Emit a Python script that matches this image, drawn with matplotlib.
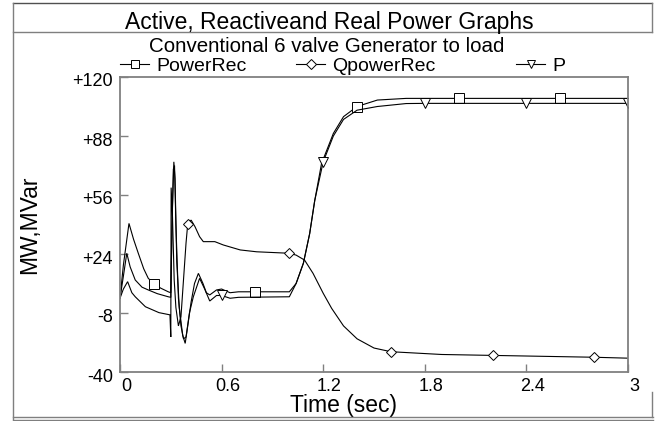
import matplotlib
matplotlib.use("Agg")
import matplotlib.pyplot as plt
from matplotlib.lines import Line2D
import matplotlib.transforms as mtransforms

plt.rcParams['font.family'] = ['Liberation Sans', 'DejaVu Sans']

# ---------------- data ----------------
title = "Active, Reactiveand Real Power Graphs"
subtitle = "Conventional 6 valve Generator to load"
series_names = ["PowerRec", "QpowerRec", "P"]

t_powerrec = [0, 0.02, 0.053, 0.08, 0.108, 0.14, 0.167, 0.2, 0.24, 0.285, 0.30,
              0.31, 0.318, 0.325, 0.335, 0.35, 0.37, 0.385, 0.40, 0.42, 0.44,
              0.463, 0.49, 0.51, 0.53, 0.57, 0.6, 0.65, 0.7, 0.8, 1.0, 1.04,
              1.083, 1.12, 1.15, 1.19, 1.26, 1.32, 1.4, 1.52, 1.69, 2.0, 2.6, 3.0]
v_powerrec = [0, 18, 40.6, 32, 24.4, 16, 10.8, 8, 5.5, 3.5, 3,
              50, 74, 65, 20, -5, -20, -24.5, -15, -2, 8,
              13.5, 8, 3, 1.8, 4.5, 5, 3, 3.5, 3.5, 3.5, 8,
              19, 35, 53, 73, 89.4, 98.5, 104, 107.5, 108.4, 108.4, 108.4, 108.4]

t_q = [0, 0.02, 0.045, 0.07, 0.09, 0.15, 0.23, 0.295, 0.3, 0.302, 0.31, 0.32,
       0.33, 0.345, 0.36, 0.375, 0.39, 0.4, 0.42, 0.443, 0.47, 0.492, 0.56,
       0.61, 0.71, 0.807, 1.0, 1.04, 1.09, 1.14, 1.2, 1.25, 1.32, 1.4, 1.5,
       1.6, 1.9, 2.2, 2.8, 3.0]
v_q = [0, 5, 9, 3, 0.8, -4.6, -7.8, -9, -21, 60, 44, 10,
       -5, -15, -10, 10, 30, 40.3, 42.4, 38.8, 33.4, 30.7, 30.7,
       28.9, 26.2, 25.2, 24.4, 23.4, 20.7, 13.5, 2.7, -5.5, -15, -22, -27,
       -29, -30.5, -31, -32, -32.5]

t_p = [0, 0.02, 0.04, 0.06, 0.09, 0.13, 0.167, 0.22, 0.285, 0.30, 0.305,
       0.315, 0.322, 0.33, 0.345, 0.36, 0.375, 0.39, 0.41, 0.433, 0.47,
       0.5, 0.53, 0.57, 0.6, 0.65, 0.7, 1.0, 1.04, 1.083, 1.12, 1.15, 1.2,
       1.26, 1.32, 1.4, 1.52, 1.69, 1.8, 2.4, 3.0]
v_p = [0, 12, 24.4, 17, 9.9, 6, 4.5, 2.5, 0.8, 0.5, 30,
       70, 72, 40, 0, -15, -22, -21, -8, 0.8, 10.8,
       5, -1.5, 1.5, 1.5, 0, 0.5, 0.8, 8, 19, 35, 53, 74,
       88, 97, 102, 104, 105.6, 105.7, 105.7, 105.7]

marker_t_powerrec = [0.2, 0.8, 1.4, 2.0, 2.6]
marker_t_q = [0.4, 1.0, 1.6, 2.2, 2.8]
marker_t_p = [0.6, 1.2, 1.8, 2.4, 3.0]

x_ticks = [0, 0.6, 1.2, 1.8, 2.4, 3]
x_ticklabels = ["0", "0.6", "1.2", "1.8", "2.4", "3"]
y_ticks = [-40, -8, 24, 56, 88, 120]
y_ticklabels = ["-40", "-8", "+24", "+56", "+88", "+120"]
x_label = "Time (sec)"
y_label = "MW,MVar"

# ---------------- figure ----------------
W, H = 661, 421
fig = plt.figure(figsize=(W / 100, H / 100), dpi=100)

def fx(px):
    return px / W

def fy(py):
    return 1 - py / H

ax = fig.add_axes([fx(120), fy(372), fx(628) - fx(120), fy(77) - fy(372)])

styles = [
    (t_powerrec, v_powerrec, marker_t_powerrec, 's', 7.0),
    (t_q, v_q, marker_t_q, 'D', 5.5),
    (t_p, v_p, marker_t_p, 'v', 7.0),
]
handles = []
for (tt, vv, mt, mk, ms), name in zip(styles, series_names):
    idx = [tt.index(m) for m in mt]
    ln, = ax.plot(tt, vv, color='black', lw=0.8, marker=mk, markevery=idx,
                  markersize=ms, markerfacecolor='white', markeredgecolor='black',
                  markeredgewidth=0.7, label=name, solid_joinstyle='miter')
    handles.append(ln)

ax.set_xlim(0, 3)
ax.set_ylim(-40, 120)
ax.set_xticks(x_ticks)
ax.set_xticklabels(x_ticklabels)
ax.set_yticks(y_ticks)
ax.set_yticklabels(y_ticklabels)
ax.tick_params(axis='both', direction='in', length=6, width=1, color='#808080',
               labelsize=13)
ax.tick_params(axis='x', pad=4)
ax.tick_params(axis='y', pad=5)
for lab in ax.get_xticklabels():
    lab.set_transform(lab.get_transform() + mtransforms.ScaledTranslation(6 / 100, 0, fig.dpi_scale_trans))
for lab in ax.get_yticklabels():
    lab.set_transform(lab.get_transform() + mtransforms.ScaledTranslation(0, -3 / 100, fig.dpi_scale_trans))
for s in ax.spines.values():
    s.set_color('#808080')
    s.set_linewidth(1.3)

ax.set_xlabel(x_label, fontsize=16.5)
ax.xaxis.set_label_coords((343 - 120) / 508, (372 - 394) / 295)
ax.set_ylabel(y_label, fontsize=16.5)
ax.yaxis.set_label_coords((41 - 120) / 508, (372 - 225) / 295)

fig.text(fx(329), fy(29), title, ha='center', va='baseline', fontsize=16.5)
fig.text(fx(327), fy(52), subtitle, ha='center', va='baseline', fontsize=14.8)

# legend entries, one per series
legend_x = [120, 296, 516]
for h, lx in zip(handles, legend_x):
    fig.legend([h], [h.get_label()], loc='center left',
               bbox_to_anchor=(fx(lx), fy(66)), frameon=False,
               handlelength=1.5, handletextpad=0.35, borderpad=0,
               borderaxespad=0, fontsize=14, markerscale=0.85)

# outer frame
def fline(x0, y0, x1, y1, color='#7f7f7f', lw=1.0):
    fig.add_artist(Line2D([fx(x0), fx(x1)], [fy(y0), fy(y1)], color=color, lw=lw))

fline(13, 3, 652, 3, color='#505050')
fline(13, 3, 13, 419)
fline(13, 32, 652, 32)
fline(652, 3, 652, 32)
fline(652, 392, 652, 417)
fline(13, 417, 653, 417)
fline(13, 420, 653, 420)

fig.savefig("out.png", dpi=100)
